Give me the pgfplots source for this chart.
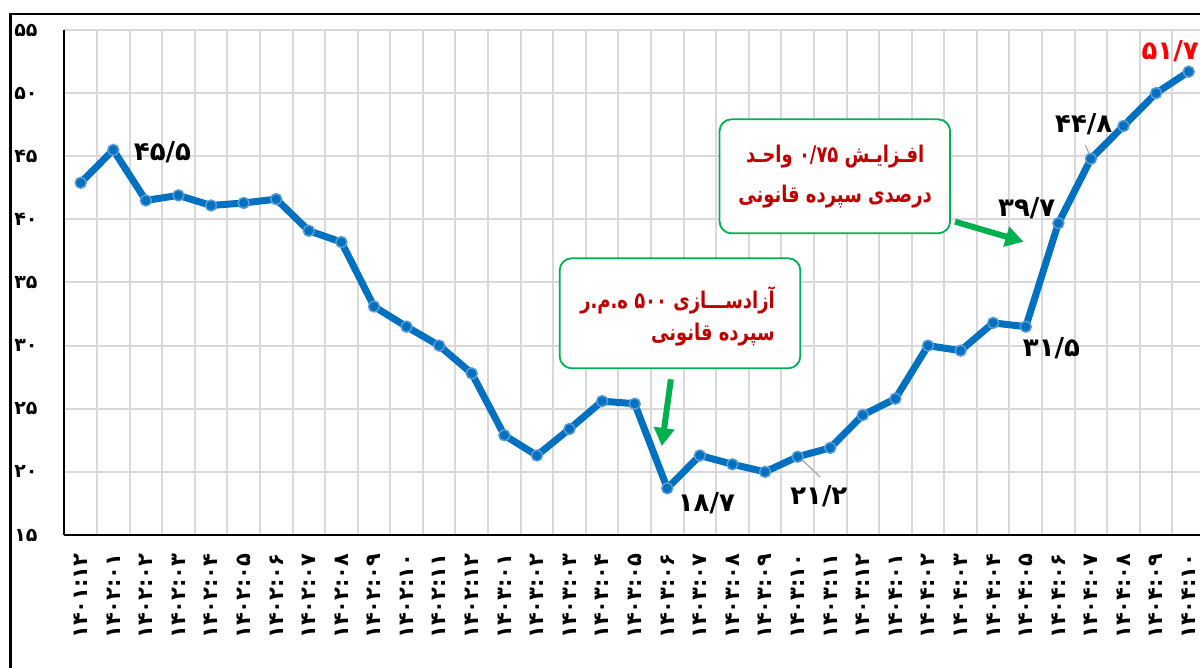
\documentclass[border=0pt]{standalone}
\usepackage{fontspec}
\usepackage{pgfplots}
\pgfplotsset{compat=1.18}
\usetikzlibrary{arrows.meta}
\setmainfont{DejaVu Sans}
\newfontfamily\fa[Script=Arabic]{DejaVu Sans}
\newfontfamily\fac[Script=Arabic,FakeStretch=0.78]{DejaVu Sans}
\TeXXeTstate=1
\definecolor{lineblue}{HTML}{0070C0}
\definecolor{markedge}{HTML}{5B9BD5}
\definecolor{boxgreen}{HTML}{00B050}
\definecolor{darkred}{HTML}{C00000}
\definecolor{gridgray}{HTML}{D9D9D9}
\definecolor{leadgray}{HTML}{A6A6A6}
\begin{document}
\begin{tikzpicture}
\useasboundingbox (0,0) rectangle (600pt,334pt);
\clip (0,0) rectangle (600pt,334pt);
\fill[white] (0,0) rectangle (600pt,334pt);
\draw[line width=1.35pt] (5.25pt,327pt) rectangle (620pt,-20pt);
\begin{axis}[
  at={(32.2pt,66.5pt)}, anchor=south west,
  scale only axis, width=570.3pt, height=252.5pt,
  xmin=-0.5, xmax=34.5, ymin=15, ymax=55,
  clip=false,
  xtick={0,...,34},
  minor xtick={-0.5,0.5,...,34.5},
  xminorgrids=true, xmajorgrids=false, ymajorgrids=true,
  grid style={gridgray, line width=1pt},
  minor grid style={gridgray, line width=1pt},
  major tick length=0pt, minor tick length=0pt,
  axis line style={draw=none},
  ytick={15,20,...,55},
  yticklabels={۱۵,۲۰,۲۵,۳۰,۳۵,۴۰,۴۵,۵۰,۵۵},
  yticklabel style={font=\fa\bfseries\fontsize{9.5}{9.5}\selectfont, anchor=west, inner sep=0pt, xshift=-25.2pt},
  xticklabels={۱۴۰۱:۱۲,۱۴۰۲:۰۱,۱۴۰۲:۰۲,۱۴۰۲:۰۳,۱۴۰۲:۰۴,۱۴۰۲:۰۵,۱۴۰۲:۰۶,۱۴۰۲:۰۷,۱۴۰۲:۰۸,۱۴۰۲:۰۹,۱۴۰۲:۱۰,۱۴۰۲:۱۱,۱۴۰۲:۱۲,۱۴۰۳:۰۱,۱۴۰۳:۰۲,۱۴۰۳:۰۳,۱۴۰۳:۰۴,۱۴۰۳:۰۵,۱۴۰۳:۰۶,۱۴۰۳:۰۷,۱۴۰۳:۰۸,۱۴۰۳:۰۹,۱۴۰۳:۱۰,۱۴۰۳:۱۱,۱۴۰۳:۱۲,۱۴۰۴:۰۱,۱۴۰۴:۰۲,۱۴۰۴:۰۳,۱۴۰۴:۰۴,۱۴۰۴:۰۵,۱۴۰۴:۰۶,۱۴۰۴:۰۷,۱۴۰۴:۰۸,۱۴۰۴:۰۹,۱۴۰۴:۱۰},
  xticklabel style={font=\fa\bfseries\fontsize{10.5}{10.5}\selectfont, rotate=90, anchor=east, inner sep=0pt},
  xticklabel shift=9pt,
]
\draw[black, line width=1pt] (rel axis cs:0,0) -- (rel axis cs:0,1);
\draw[black, line width=1pt] (rel axis cs:0,0) -- (rel axis cs:1,0);
\addplot[lineblue, line width=3.5pt, line join=round, mark=*, mark size=2.75pt,
  mark options={fill=lineblue, draw=markedge, line width=0.75pt}] coordinates {
(0,42.9) (1,45.5) (2,41.5) (3,41.9) (4,41.1) (5,41.3) (6,41.6) (7,39.1) (8,38.2) (9,33.1)
(10,31.5) (11,30.0) (12,27.8) (13,22.9) (14,21.3) (15,23.4) (16,25.6) (17,25.4) (18,18.7) (19,21.3)
(20,20.6) (21,20.0) (22,21.2) (23,21.9) (24,24.5) (25,25.8) (26,30.0) (27,29.6) (28,31.8) (29,31.5)
(30,39.7) (31,44.8) (32,47.4) (33,50.0) (34,51.7)
};
% leader lines
\draw[leadgray, line width=0.6pt] (axis cs:22.05,21.18) -- (axis cs:22.69,19.59);
\draw[leadgray, line width=0.6pt] (axis cs:30.83,45.89) -- (axis cs:30.98,44.94);
% value labels
\begin{scope}[every node/.style={font=\fa\bfseries\fontsize{13}{13}\selectfont, inner sep=0pt}]
\node at (axis cs:2.51,45.33) {۴۵/۵};
\node at (axis cs:19.2,17.53) {۱۸/۷};
\node at (axis cs:22.65,18.09) {۲۱/۲};
\node at (axis cs:29.79,29.81) {۳۱/۵};
\node at (axis cs:29.03,40.9) {۳۹/۷};
\node at (axis cs:30.78,47.55) {۴۴/۸};
\node[text=red] at (axis cs:33.43,53.3) {۵۱/۷};
\end{scope}
% boxes
\node[draw=boxgreen, line width=0.9pt, rounded corners=6pt, fill=white,
  minimum width=120.3pt, minimum height=55pt, inner sep=0pt] at (axis cs:18.39,32.56) {};
\node[draw=boxgreen, line width=0.9pt, rounded corners=6pt, fill=white,
  minimum width=115.3pt, minimum height=57pt, inner sep=0pt] at (axis cs:23.14,43.41) {};
\begin{scope}[every node/.style={text=darkred, font=\fac\bfseries\fontsize{11.5}{12}\selectfont, inner sep=0pt}]
\node[anchor=east] at (axis cs:21.31,33.61) {\beginR آزادســـازی \beginL ۵۰۰\endL{} ه.م.ر\endR};
\node[anchor=east] at (axis cs:21.31,30.84) {\beginR سپرده قانونی\endR};
\node at (axis cs:23.15,44.96) {\beginR افـزایـش \beginL ۰/۷۵\endL{} واحـد\endR};
\node at (axis cs:23.15,41.80) {\beginR درصدی سپرده قانونی\endR};
\end{scope}
% arrows
\draw[boxgreen, line width=3pt, -{Triangle[width=10pt,length=9pt]}] (axis cs:18.11,27.33) -- (axis cs:17.83,22.05);
\draw[boxgreen, line width=3pt, -{Triangle[width=10pt,length=9pt]}] (axis cs:26.83,39.82) -- (axis cs:28.93,38.23);
\end{axis}
\end{tikzpicture}
\end{document}
